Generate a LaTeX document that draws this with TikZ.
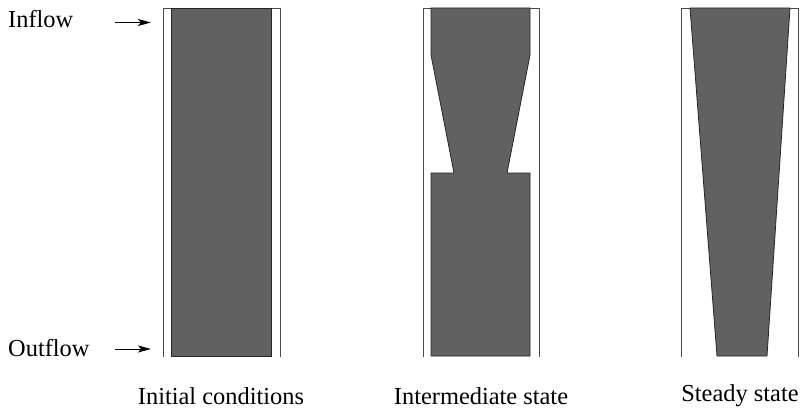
\documentclass[tikz,border=0pt]{standalone}
\usepackage{fontspec}
\setmainfont{Liberation Serif}
\usetikzlibrary{arrows.meta}
\begin{document}
\begin{tikzpicture}[x=1pt,y=-1pt,
  wall/.style={draw=black!70,line width=0.9pt},
  fluid/.style={fill=black!62,draw=black!85,line width=0.8pt,line join=miter},
  lab/.style={font=\fontsize{24.4}{28}\selectfont,inner sep=0pt},
  flowarrow/.style={-{Stealth[length=13pt,width=7pt,inset=3pt]},line width=1pt}]
\useasboundingbox (0,0) rectangle (800,409);
% column 1
\draw[wall] (163,357) -- (163,8) -- (280,8) -- (280,357);
\draw[fluid] (171,8) rectangle (271,356);
% column 2
\draw[wall] (423,357) -- (423,8) -- (539,8) -- (539,357);
\draw[fluid] (431,8) -- (530,8) -- (530,55) -- (507,173) -- (530,173) -- (530,356)
  -- (431,356) -- (431,173) -- (454,173) -- (431,55) -- cycle;
% column 3
\draw[wall] (681,357) -- (681,8) -- (798,8) -- (798,357);
\draw[fluid] (690,8) -- (790,8) -- (767,356) -- (717,356) -- cycle;
% labels
\node[lab,anchor=west] (inflow) at (8,19) {Inflow};
\node[lab,anchor=west] (outflow) at (8,348) {Outflow};
\coordinate (inS) at (115,22.5);
\coordinate (inE) at (151,22.5);
\coordinate (outS) at (115,349);
\coordinate (outE) at (151,349);
\draw[flowarrow] (inS) -- (inE);
\draw[flowarrow] (outS) -- (outE);
\node[lab] (c1) at (221,396) {Initial conditions};
\node[lab] (c2) at (481,396) {Intermediate state};
\node[lab] (c3) at (740,396) {Steady state};
\end{tikzpicture}
\end{document}
